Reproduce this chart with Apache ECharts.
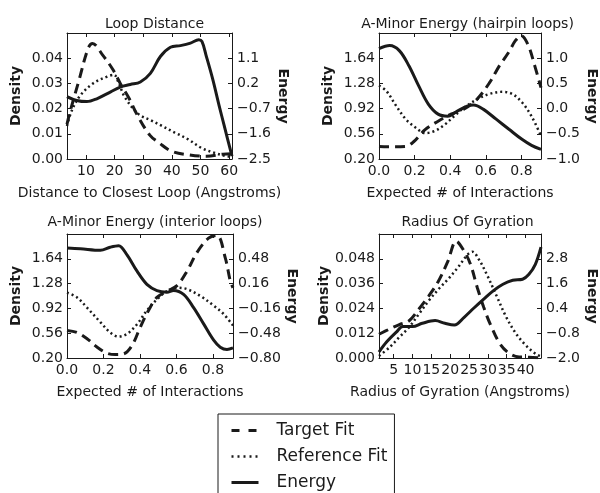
<!DOCTYPE html>
<html><head><meta charset="utf-8">
<script src="https://cdn.jsdelivr.net/npm/echarts@6/dist/echarts.min.js"></script>
<style>html,body{margin:0;padding:0;background:#fff}#c{width:600px;height:493px}</style>
</head><body><div id="c"></div>
<script>
// ---------- data ----------
const titles = ['Loop Distance', 'A-Minor Energy (hairpin loops)', 'A-Minor Energy (interior loops)', 'Radius Of Gyration'];
const xNames = ['Distance to Closest Loop (Angstroms)', 'Expected # of Interactions', 'Expected # of Interactions', 'Radius of Gyration (Angstroms)'];
const seriesNames = ['Target Fit', 'Reference Fit', 'Energy'];

// Loop Distance
const loopXTicks = [10, 20, 30, 40, 50, 60];
const loopDensityTicks = [0, 0.01, 0.02, 0.03, 0.04];
const loopEnergyTicks = [-2.5, -1.6, -0.7, 0.2, 1.1];
const loopTarget = [[3.4,0.0138],[4.4,0.0185],[7.6,0.0313],[10.8,0.044],[12.3,0.0458],[16,0.041],[19.3,0.0357],[22,0.030],[25.1,0.024],[27.9,0.0175],[32.3,0.0095],[35.8,0.0062],[39.9,0.0031],[46.2,0.0016],[52.1,0.0011],[57.8,0.0019],[61,0.0021]];
const loopReference = [[3.4,0.0131],[5,0.019],[7.9,0.025],[12.5,0.030],[17.2,0.0326],[19.8,0.0334],[21.5,0.030],[23.6,0.0245],[28.3,0.0179],[32.9,0.0152],[36.4,0.0132],[41,0.0105],[45.7,0.0078],[50.3,0.0044],[55,0.0024],[58.4,0.0013],[61,0.0008]];
const loopEnergy = [[3.4,-0.27],[6.8,-0.41],[10.3,-0.45],[13.8,-0.35],[18.5,-0.11],[22,0.07],[25.5,0.16],[29,0.25],[32.5,0.56],[36,1.16],[39.5,1.49],[43,1.55],[46.5,1.64],[49.4,1.76],[50.5,1.70],[51.9,1.22],[54.2,0.38],[56.5,-0.59],[58.3,-1.32],[61,-2.4]];

// A-Minor hairpin
const hairXTicks = [0, 0.2, 0.4, 0.6, 0.8];
const hairDensityTicks = [0.2, 0.56, 0.92, 1.28, 1.64];
const hairEnergyTicks = [-1.0, -0.5, 0.0, 0.5, 1.0];
const hairTarget = [[0,0.38],[0.08,0.375],[0.15,0.38],[0.196,0.45],[0.259,0.62],[0.332,0.74],[0.404,0.84],[0.476,0.91],[0.549,1.05],[0.621,1.29],[0.676,1.53],[0.73,1.73],[0.766,1.89],[0.799,1.96],[0.839,1.82],[0.875,1.53],[0.91,1.22]];
const hairReference = [[0,1.25],[0.042,1.17],[0.096,0.96],[0.15,0.77],[0.205,0.65],[0.259,0.57],[0.313,0.6],[0.368,0.69],[0.422,0.81],[0.476,0.93],[0.549,1.05],[0.621,1.13],[0.694,1.16],[0.748,1.13],[0.803,1.01],[0.857,0.81],[0.91,0.53]];
const hairEnergy = [[0,1.19],[0.06,1.25],[0.114,1.15],[0.168,0.85],[0.223,0.45],[0.277,0.09],[0.332,-0.11],[0.386,-0.15],[0.44,-0.05],[0.495,0.05],[0.531,0.07],[0.585,-0.01],[0.658,-0.21],[0.73,-0.41],[0.803,-0.61],[0.857,-0.73],[0.91,-0.81]];

// A-Minor interior
const intXTicks = [0, 0.2, 0.4, 0.6, 0.8];
const intDensityTicks = [0.2, 0.56, 0.92, 1.28, 1.64];
const intEnergyTicks = [-0.80, -0.48, -0.16, 0.16, 0.48];
const intTarget = [[0,0.6],[0.055,0.57],[0.11,0.48],[0.164,0.36],[0.219,0.27],[0.265,0.25],[0.31,0.26],[0.356,0.38],[0.402,0.65],[0.447,0.89],[0.493,1.08],[0.548,1.17],[0.603,1.25],[0.658,1.46],[0.712,1.73],[0.776,1.94],[0.822,1.98],[0.868,1.65],[0.895,1.32],[0.91,1.22]];
const intReference = [[0,1.15],[0.055,1.08],[0.11,0.93],[0.183,0.72],[0.237,0.57],[0.283,0.51],[0.329,0.55],[0.384,0.69],[0.438,0.89],[0.493,1.05],[0.548,1.17],[0.603,1.22],[0.658,1.2],[0.731,1.1],[0.804,0.96],[0.858,0.84],[0.91,0.67]];
const intEnergy = [[0,0.62],[0.073,0.61],[0.183,0.59],[0.237,0.63],[0.283,0.65],[0.329,0.53],[0.384,0.32],[0.438,0.15],[0.493,0.07],[0.548,0.05],[0.584,0.07],[0.639,0.02],[0.694,-0.15],[0.749,-0.36],[0.804,-0.57],[0.84,-0.66],[0.877,-0.69],[0.91,-0.67]];

// Radius of gyration
const radXTicks = [5, 10, 15, 20, 25, 30, 35, 40];
const radDensityTicks = [0, 0.012, 0.024, 0.036, 0.048];
const radEnergyTicks = [-2.0, -0.8, 0.4, 1.6, 2.8];
const radTarget = [[1.1,0.0115],[4.0,0.0141],[6.5,0.0162],[9.1,0.018],[11.7,0.0237],[14.3,0.030],[16.9,0.0373],[19.4,0.0469],[21.6,0.0565],[23.7,0.0517],[25.4,0.0453],[27.2,0.034],[28.9,0.0245],[30.6,0.0165],[33.2,0.0069],[35.8,0.0021],[38.3,0.0005],[40.9,0.0004],[44.1,0.0]];
const radReference = [[1.1,0.0010],[4.0,0.0053],[6.5,0.0101],[9.1,0.0149],[11.7,0.0213],[14.3,0.0277],[16.9,0.0333],[19.4,0.0381],[22.0,0.0437],[24.6,0.050],[25.9,0.0514],[27.6,0.0477],[29.7,0.0405],[32.3,0.0301],[34.9,0.0197],[37.5,0.0117],[40.1,0.0061],[42.6,0.0021],[44.1,0.0008]];
const radEnergy = [[1.1,-1.71],[3.1,-1.23],[5.7,-0.75],[7.4,-0.48],[10.0,-0.48],[12.6,-0.32],[16.0,-0.19],[18.6,-0.32],[21.1,-0.4],[23.7,-0.03],[26.3,0.42],[28.9,0.85],[31.4,1.25],[34.0,1.57],[36.6,1.76],[39.2,1.81],[40.9,2.05],[42.6,2.53],[44.1,3.36]];

// ---------- layout ----------
const FONT = 'DejaVu Sans';
const INK = '#1a1a1a';
const FS = 14;
const grids = [
  {left: 67, top: 33, width: 165, height: 126},
  {left: 379, top: 33, width: 167, height: 126},
  {left: 67, top: 234, width: 166, height: 124},
  {left: 379, top: 234, width: 167, height: 124}
];
const panels = [
  {x:[3.4,61], xt:loopXTicks, xd:0, d:[0,0.05], dt:loopDensityTicks, dd:2, e:[-2.5,2.0], et:loopEnergyTicks, ed:1, s:[loopTarget,loopReference,loopEnergy]},
  {x:[0,0.91], xt:hairXTicks, xd:1, d:[0.2,2.0], dt:hairDensityTicks, dd:2, e:[-1.0,1.5], et:hairEnergyTicks, ed:1, s:[hairTarget,hairReference,hairEnergy]},
  {x:[0,0.91], xt:intXTicks, xd:1, d:[0.2,2.0], dt:intDensityTicks, dd:2, e:[-0.8,0.8], et:intEnergyTicks, ed:2, s:[intTarget,intReference,intEnergy]},
  {x:[1.1,44.1], xt:radXTicks, xd:0, d:[0,0.06], dt:radDensityTicks, dd:3, e:[-2.0,4.0], et:radEnergyTicks, ed:1, s:[radTarget,radReference,radEnergy]}
];
const fmt = (dec) => (v) => Number(v).toFixed(dec).replace('-', '\u2212');
const lineStyles = [
  {type:[10,6], width:3},
  {type:[2,3], width:2.5},
  {type:'solid', width:3}
];

const xAxis = [], yAxis = [], series = [], title = [];
panels.forEach((p, i) => {
  const g = grids[i];
  title.push({text: titles[i], left: g.left + g.width/2, top: (i < 2 ? 12 : 210), textAlign: 'center',
    textStyle: {fontFamily: FONT, fontSize: FS, fontWeight: 'normal', color: INK}});
  const axLine = {show: true, onZero: false, lineStyle: {color: INK, width: 1}};
  xAxis.push({type:'value', gridIndex:i, position:'bottom', min:p.x[0], max:p.x[1],
    name: xNames[i], nameLocation:'middle', nameGap: 27,
    nameTextStyle:{fontFamily:FONT, fontSize:FS, color:INK},
    axisLine: axLine, splitLine:{show:false},
    axisTick:{inside:true, length:4, lineStyle:{color:INK}, customValues:p.xt},
    axisLabel:{fontFamily:FONT, fontSize:FS, color:INK, margin:5, customValues:p.xt, formatter:fmt(p.xd), hideOverlap:false}});
  xAxis.push({type:'value', gridIndex:i, position:'top', min:p.x[0], max:p.x[1],
    axisLine: axLine, splitLine:{show:false},
    axisTick:{inside:true, length:4, lineStyle:{color:INK}, customValues:p.xt},
    axisLabel:{show:false}});
  yAxis.push({type:'value', gridIndex:i, position:'left', min:p.d[0], max:p.d[1],
    name:'Density', nameLocation:'middle', nameGap: 44, nameRotate: 90,
    nameTextStyle:{fontFamily:FONT, fontSize:FS, fontWeight:'bold', color:INK},
    axisLine: axLine, splitLine:{show:false},
    axisTick:{inside:true, length:4, lineStyle:{color:INK}, customValues:p.dt},
    axisLabel:{fontFamily:FONT, fontSize:FS, color:INK, margin:4, customValues:p.dt, formatter:fmt(p.dd)}});
  yAxis.push({type:'value', gridIndex:i, position:'right', min:p.e[0], max:p.e[1],
    name:'Energy', nameLocation:'middle', nameGap: 44, nameRotate: -90,
    nameTextStyle:{fontFamily:FONT, fontSize:FS, fontWeight:'bold', color:INK},
    axisLine: axLine, splitLine:{show:false},
    axisTick:{inside:true, length:4, lineStyle:{color:INK}, customValues:p.et},
    axisLabel:{fontFamily:FONT, fontSize:FS, color:INK, margin:5, customValues:p.et, formatter:fmt(p.ed)}});
  p.s.forEach((data, k) => {
    series.push({type:'line', name: seriesNames[k], xAxisIndex: 2*i, yAxisIndex: k === 2 ? 2*i+1 : 2*i,
      data: data, smooth: 0.35, symbol:'none', clip: true, animation:false,
      lineStyle: Object.assign({color: INK}, lineStyles[k]), itemStyle:{color: INK}});
  });
});

const chart = echarts.init(document.getElementById('c'), null, {renderer:'canvas'});
chart.setOption({
  backgroundColor: '#fff',
  animation: false,
  title: title,
  grid: grids.map(g => Object.assign({containLabel:false}, g)),
  xAxis: xAxis,
  yAxis: yAxis,
  legend: {
    orient:'vertical', left: 218, top: 414, height: 90,
    padding: [8, 7, 8, 12], itemGap: 9, itemWidth: 27, itemHeight: 14,
    borderColor: INK, borderWidth: 1, backgroundColor:'#fff',
    textStyle: {fontFamily: FONT, fontSize: 17, lineHeight: 15, color: INK, padding:[0,0,0,13]},
    data: [
      {name:'Target Fit', itemStyle:{opacity:0, borderWidth:0}, lineStyle:{type:[8,9], width:3, color:INK}},
      {name:'Reference Fit', itemStyle:{opacity:0, borderWidth:0}, lineStyle:{type:[2,4], width:2.5, color:INK}},
      {name:'Energy', itemStyle:{opacity:0, borderWidth:0}, lineStyle:{type:'solid', width:3, color:INK}}
    ]
  },
  series: series
});
</script></body></html>
